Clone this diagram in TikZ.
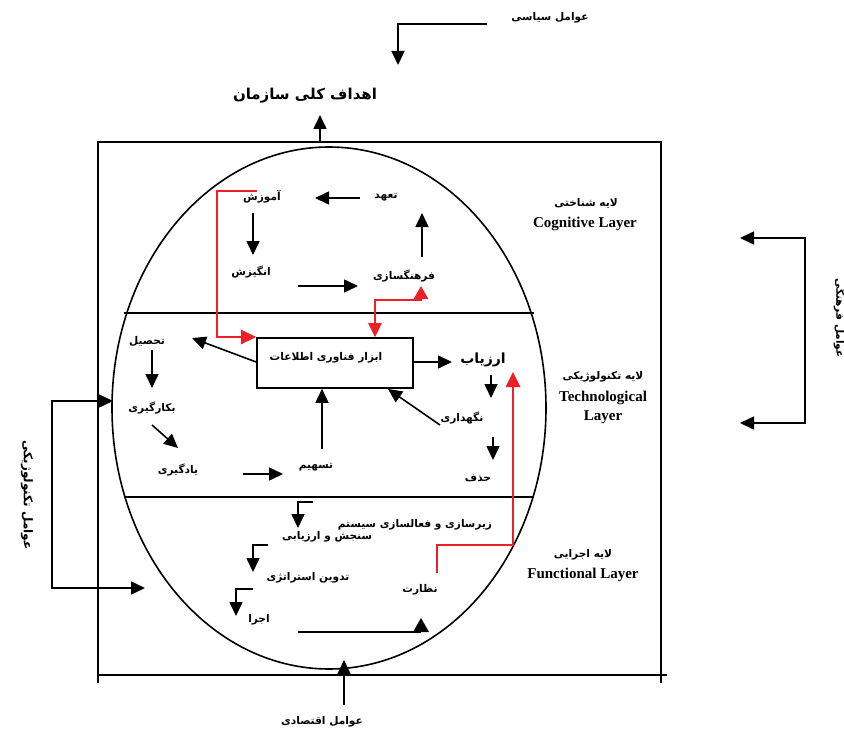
\documentclass[tikz,border=0pt]{standalone}
\usepackage{fontspec}
\usetikzlibrary{arrows.meta}
\TeXXeTstate=1
\newfontfamily\fa[Script=Arabic]{DejaVu Sans}
\newfontfamily\en{Liberation Serif}
\newcommand\rtl[1]{\beginR #1\endR}
\definecolor{redline}{RGB}{236,32,38}
\tikzset{
  fatext/.style={font=\fa\bfseries\fontsize{10.6}{12}\selectfont, inner sep=0pt},
  fabig/.style={font=\fa\bfseries\fontsize{14}{16}\selectfont, inner sep=0pt},
  layer/.style={font=\en\bfseries\fontsize{15}{17}\selectfont, inner sep=0pt},
  ln/.style={line width=1.6pt},
  arr/.style={ln, -{Triangle[length=14pt,width=13pt]}},
  rarr/.style={line width=2.6pt, redline, -{Triangle[length=15pt,width=14pt]}},
  rarrb/.style={line width=2.6pt, redline, {Triangle[length=14pt,width=13pt]}-{Triangle[length=13pt,width=14pt]}},
}
\begin{document}
\begin{tikzpicture}[x=1pt,y=-1pt]
\fill[white] (0,0) rectangle (844,733);
\useasboundingbox (0,0) rectangle (844,733);

% frame and ellipse
\draw[ln] (98,142) rectangle (661,675);
\draw[ln] (98,675) -- (98,683) (661,675) -- (661,683) (661,675) -- (667,675);
\draw[ln] (329,408) ellipse [x radius=217, y radius=261];
\draw[ln] (124,313) -- (534,313);
\draw[ln] (124,497) -- (534,497);

% outer texts
\node[fatext] (pol) at (550,18) {\rtl{عوامل سیاسی}};
\node[font=\fa\bfseries\fontsize{15}{17}\selectfont, inner sep=0pt] (goal) at (305,96) {\rtl{اهداف کلی سازمان}};
\node[fatext, rotate=-90] (cul) at (840,318) {\rtl{عوامل فرهنگی}};
\node[font=\fa\bfseries\fontsize{12}{14}\selectfont, inner sep=0pt, rotate=-90] (tec) at (27,495) {\rtl{عوامل تکنولوژیکی}};
\node[fatext] (eco) at (322,722) {\rtl{عوامل اقتصادی}};

\coordinate (polA) at (487,24);
\coordinate (polB) at (398,65);
\draw[arr] (polA) -- (polA -| polB) -- (polB);
\coordinate (goalA) at (320,142);
\coordinate (goalB) at (320,115);
\draw[arr] (goalA) -- (goalB);
\coordinate (culM) at (805,330);
\coordinate (culT) at (740,238);
\coordinate (culB) at (740,423);
\draw[arr] (culM) -- (culM |- culT) -- (culT);
\draw[arr] (culM) -- (culM |- culB) -- (culB);
\coordinate (tecM) at (52,495);
\coordinate (tecT) at (113,401);
\coordinate (tecB) at (145,588);
\draw[arr] (tecM) -- (tecM |- tecT) -- (tecT);
\draw[arr] (tecM) -- (tecM |- tecB) -- (tecB);
\coordinate (ecoA) at (344,705);
\coordinate (ecoB) at (344,660);
\draw[arr] (ecoA) -- (ecoB);

% layer labels
\node[fatext] (l1fa) at (586,203) {\rtl{لایه شناختی}};
\node[layer] (l1en) at (585,224) {Cognitive Layer};
\node[fatext] (l2fa) at (603,377) {\rtl{لایه تکنولوژیکی}};
\node[layer] (l2en) at (603,398) {Technological};
\node[layer] (l2en2) at (603,417) {Layer};
\node[fatext] (l3fa) at (583,555) {\rtl{لایه اجرایی}};
\node[layer] (l3en) at (583,575) {Functional Layer};

% cognitive layer
\node[fatext] (amz) at (262,197) {\rtl{آموزش}};
\node[fatext] (tah) at (386,197) {\rtl{تعهد}};
\node[fatext] (ang) at (251,272) {\rtl{انگیزش}};
\node[fatext] (far) at (404,276) {\rtl{فرهنگسازی}};
\draw[arr] (360,198) -- (315,198);
\draw[arr] (253,213) -- (253,255);
\draw[arr] (298,286) -- (358,286);
\draw[arr] (422,257) -- (422,213);

% technological layer
\node[draw, ln, minimum width=156pt, minimum height=50pt, inner sep=0pt] (ict) at (335,363) {};
\node[fatext] (icttxt) at (326,358) {\rtl{ابزار فناوری اطلاعات}};
\node[fatext] (tas) at (147,341) {\rtl{تحصیل}};
\node[fatext] (bek) at (152,408) {\rtl{بکارگیری}};
\node[fatext] (yad) at (178,470) {\rtl{یادگیری}};
\node[fatext] (tsh) at (316,467) {\rtl{تسهیم}};
\node[fabig] (arz) at (483,360) {\rtl{ارزیاب}};
\node[fatext] (neg) at (462,418) {\rtl{نگهداری}};
\node[fatext] (haz) at (478,478) {\rtl{حذف}};
\draw[arr] (ict.west |- 0,362) -- (192,338);
\draw[arr] (152,350) -- (152,388);
\draw[arr] (152,425) -- (178,448);
\draw[arr] (243,474) -- (283,474);
\draw[arr] (322,449) -- (ict.south -| 322,0);
\draw[arr] (ict.east |- 0,362) -- (452,362);
\draw[arr] (491,375) -- (491,398);
\draw[arr] (440,425) -- (388,389);
\draw[arr] (493,437) -- (493,460);

% functional layer
\node[fatext] (zir) at (415,525) {\rtl{زیرسازی و فعالسازی سیستم}};
\node[fatext] (san) at (327,537) {\rtl{سنجش و ارزیابی}};
\node[fatext] (tad) at (308,578) {\rtl{تدوین استراتژی}};
\node[fatext] (ejr) at (259,620) {\rtl{اجرا}};
\node[fatext] (nez) at (420,590) {\rtl{نظارت}};
\draw[arr] (313,502) -- (298,502) -- (298,528);
\draw[arr] (268,545) -- (253,545) -- (253,572);
\draw[arr] (253,589) -- (236,589) -- (236,616);
\draw[ln] (298,632) -- (421,632);
\fill (413,632) -- (421,618) -- (429,632) -- cycle;

% red connectors
\draw[rarr] (257,191) -- (217,191) -- (217,337) -- (ict.west |- 0,337);
\draw[rarrb] (ict.north -| 375,0) -- (375,300) -- (421,300) -- (421,286);
\draw[rarr] (437,573) -- (437,545) -- (513,545) -- (513,372);
\end{tikzpicture}
\end{document}
